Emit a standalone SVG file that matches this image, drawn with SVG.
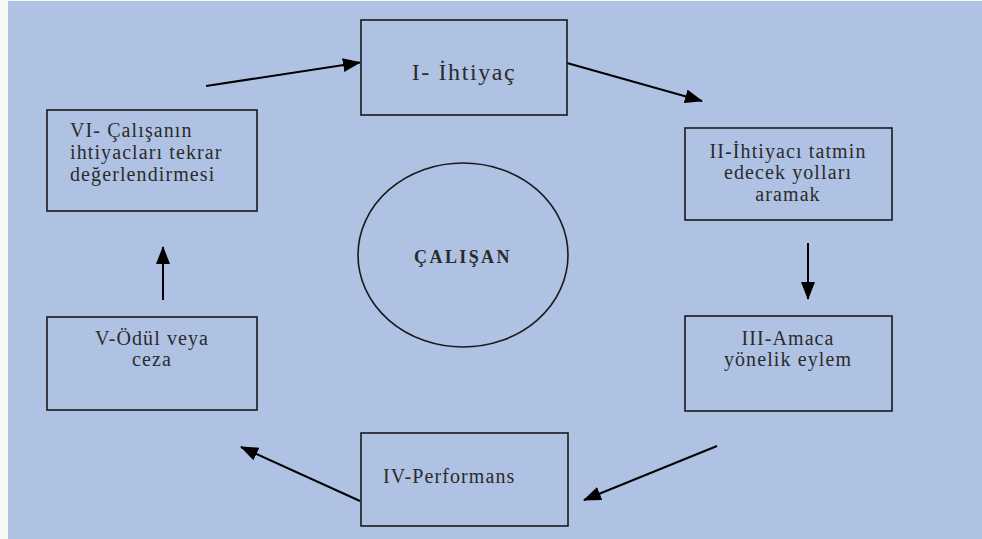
<svg xmlns="http://www.w3.org/2000/svg" width="982" height="539" viewBox="0 0 982 539">
  <defs>
    <marker id="head" markerWidth="18" markerHeight="14" refX="17" refY="7" orient="auto" markerUnits="userSpaceOnUse">
      <path d="M0,0 L18,7 L0,14 Z" fill="#000"/>
    </marker>
    <style>
      .box { fill: none; stroke: #1a1a1a; stroke-width: 1.6; }
      .lbl { font-family: "Liberation Serif", "Times New Roman", serif; font-size: 20px; fill: #2b2b2b; letter-spacing: 1.1px; }
      .mid { text-anchor: middle; }
      .link { stroke: #000; stroke-width: 2; fill: none; marker-end: url(#head); }
    </style>
  </defs>

  <!-- page and panel -->
  <rect x="0" y="0" width="982" height="539" fill="#f8f8f6"/>
  <rect x="8" y="1" width="974" height="538" fill="#b0c2e4"/>

  <g id="connectors">
    <line class="link" x1="206" y1="86" x2="360" y2="62.5"/>
    <line class="link" x1="567" y1="63" x2="702" y2="101"/>
    <line class="link" x1="808" y1="243" x2="808" y2="299"/>
    <line class="link" x1="717" y1="446" x2="584" y2="500"/>
    <line class="link" x1="360" y1="501" x2="241" y2="447"/>
    <line class="link" x1="163" y1="300" x2="163" y2="247"/>
  </g>

  <g id="node-1">
    <rect class="box" x="361" y="20" width="206" height="95"/>
    <text class="lbl" x="464" y="80" text-anchor="middle" style="font-size:24px;letter-spacing:1.6px">I- İhtiyaç</text>
  </g>

  <g id="node-2">
    <rect class="box" x="685" y="128" width="207" height="92"/>
    <text class="lbl mid" x="788" y="158">II-İhtiyacı tatmin</text>
    <text class="lbl mid" x="788" y="179">edecek yolları</text>
    <text class="lbl mid" x="788" y="201">aramak</text>
  </g>

  <g id="node-3">
    <rect class="box" x="685" y="316" width="207" height="95"/>
    <text class="lbl mid" x="788" y="345">III-Amaca</text>
    <text class="lbl mid" x="788" y="366">yönelik eylem</text>
  </g>

  <g id="node-4">
    <rect class="box" x="361" y="433" width="207" height="93"/>
    <text class="lbl" x="383" y="483">IV-Performans</text>
  </g>

  <g id="node-5">
    <rect class="box" x="47" y="317" width="210" height="93"/>
    <text class="lbl mid" x="152" y="345">V-Ödül veya</text>
    <text class="lbl mid" x="152" y="366">ceza</text>
  </g>

  <g id="node-6">
    <rect class="box" x="47" y="110" width="210" height="101"/>
    <text class="lbl" x="70" y="137">VI- Çalışanın</text>
    <text class="lbl" x="70" y="159">ihtiyacları tekrar</text>
    <text class="lbl" x="70" y="181">değerlendirmesi</text>
  </g>

  <g id="node-center">
    <ellipse cx="463" cy="255" rx="105" ry="92" fill="none" stroke="#1a1a1a" stroke-width="1.6"/>
    <text class="lbl mid" x="463" y="263" style="font-weight:bold;font-size:18px;letter-spacing:2.4px">ÇALIŞAN</text>
  </g>
</svg>
